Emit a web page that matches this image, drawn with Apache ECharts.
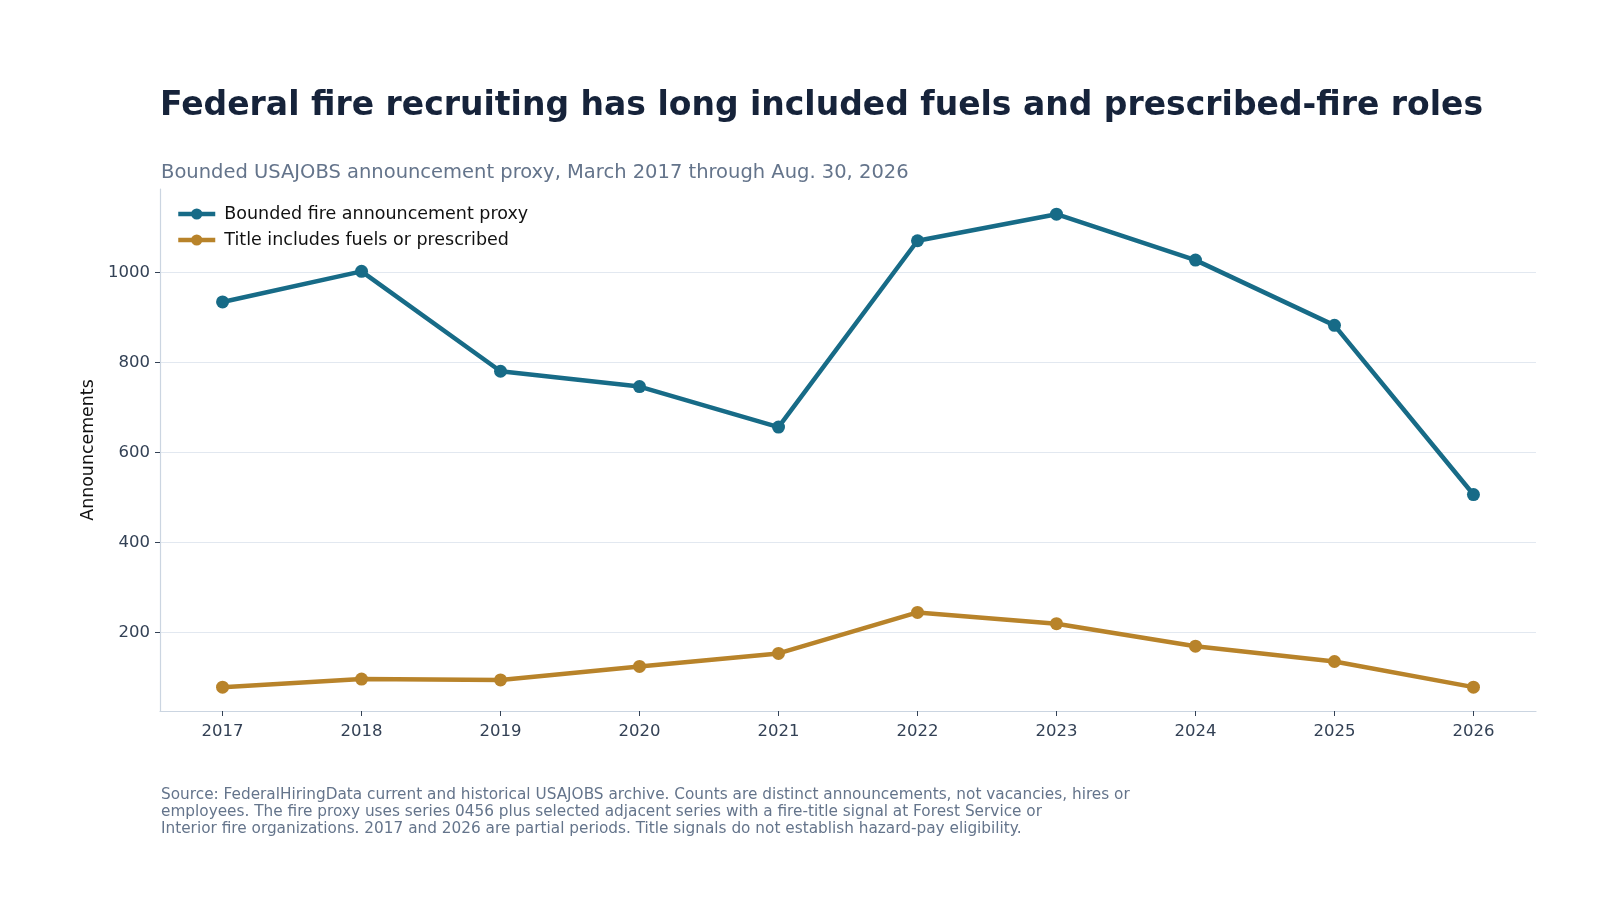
<!DOCTYPE html>
<html><head><meta charset="utf-8">
<script src="https://cdn.jsdelivr.net/npm/echarts@6/dist/echarts.min.js"></script>
<style>html,body{margin:0;padding:0;background:#fff}#c{width:1600px;height:900px}</style>
</head><body><div id="c"></div>
<script>
const years = [2017, 2018, 2019, 2020, 2021, 2022, 2023, 2024, 2025, 2026];
const fireProxy = [935, 1003, 781, 747, 657, 1071, 1130, 1028, 883, 507];
const fuelsTitle = [79, 97, 95, 125, 154, 245, 220, 170, 136, 79];
const yTicks = [200, 400, 600, 800, 1000];
const seriesNames = ['Bounded fire announcement proxy', 'Title includes fuels or prescribed'];

const font = 'DejaVu Sans';
const chart = echarts.init(document.getElementById('c'), null, {renderer: 'canvas'});
chart.setOption({
  animation: false,
  backgroundColor: '#ffffff',
  textStyle: {fontFamily: font},
  title: [{
    text: 'Federal fire recruiting has long included fuels and prescribed-fire roles',
    left: 155, top: 85,
    textStyle: {fontFamily: font, fontSize: 33, fontWeight: 'bold', color: '#16233a'}
  }, {
    text: 'Bounded USAJOBS announcement proxy, March 2017 through Aug. 30, 2026',
    left: 156, top: 158,
    textStyle: {fontFamily: font, fontSize: 19.5, fontWeight: 'normal', color: '#64748b'}
  }, {
    text: 'Source: FederalHiringData current and historical USAJOBS archive. Counts are distinct announcements, not vacancies, hires or\nemployees. The fire proxy uses series 0456 plus selected adjacent series with a fire-title signal at Forest Service or\nInterior fire organizations. 2017 and 2026 are partial periods. Title signals do not establish hazard-pay eligibility.',
    left: 156, top: 782,
    textStyle: {fontFamily: font, fontSize: 15.3, fontWeight: 'normal', color: '#64748b', lineHeight: 17}
  }],
  legend: {
    left: 171, top: 200, orient: 'vertical', itemGap: 8,
    itemWidth: 37, itemHeight: 14,
    textStyle: {fontFamily: font, fontSize: 17.5, color: '#111111', padding: [0, 0, 0, 4]},
    lineStyle: {width: 4.5},
    data: seriesNames
  },
  grid: {left: 160, right: 64, top: 189, bottom: 189, containLabel: false},
  xAxis: {
    type: 'value', min: 2016.55, max: 2026.45,
    axisLine: {show: true, lineStyle: {color: '#cbd5e1', width: 1.2}},
    axisTick: {show: true, length: 5, lineStyle: {color: '#334155'}, customValues: years},
    axisLabel: {fontFamily: font, fontSize: 16.5, color: '#334155', margin: 12, customValues: years,
      formatter: v => String(Math.round(v))},
    splitLine: {show: false}
  },
  yAxis: {
    type: 'value', min: 26, max: 1186,
    name: 'Announcements', nameLocation: 'middle', nameGap: 63, nameRotate: 90,
    nameTextStyle: {fontFamily: font, fontSize: 17.4, color: '#111111'},
    axisLine: {show: true, lineStyle: {color: '#cbd5e1', width: 1.2}},
    axisTick: {show: true, length: 5, lineStyle: {color: '#334155'}, customValues: yTicks},
    axisLabel: {fontFamily: font, fontSize: 16.5, color: '#334155', margin: 10, customValues: yTicks,
      formatter: v => String(Math.round(v))},
    splitLine: {show: true, lineStyle: {color: '#e2e8f0', width: 1}},
    splitNumber: 6
  },
  series: [{
    name: seriesNames[0], type: 'line',
    data: years.map((y, i) => [y, fireProxy[i]]),
    symbol: 'circle', symbolSize: 13,
    lineStyle: {width: 4.5, color: '#176b87'},
    itemStyle: {color: '#176b87'}
  }, {
    name: seriesNames[1], type: 'line',
    data: years.map((y, i) => [y, fuelsTitle[i]]),
    symbol: 'circle', symbolSize: 13,
    lineStyle: {width: 4.5, color: '#b8832a'},
    itemStyle: {color: '#b8832a'}
  }]
});
</script></body></html>
